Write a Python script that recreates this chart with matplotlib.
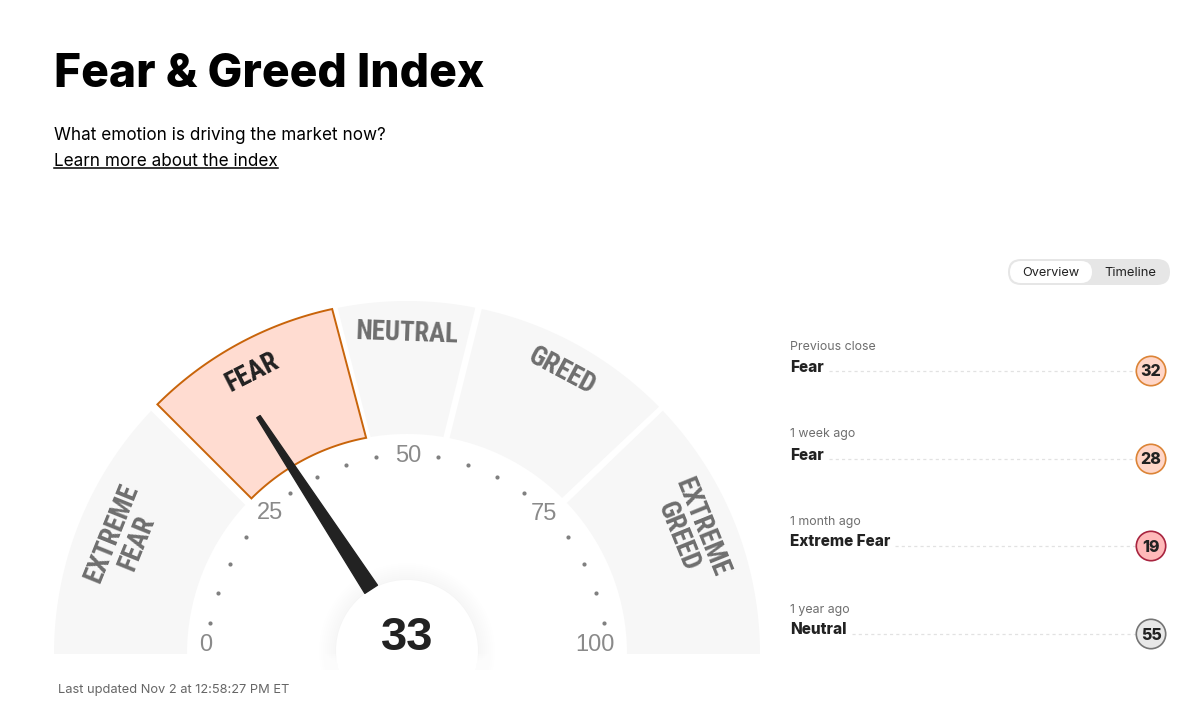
import numpy as np
import matplotlib
matplotlib.use("Agg")
import matplotlib.pyplot as plt
from matplotlib.patches import Circle, Polygon, FancyBboxPatch, Rectangle

# gauge data
zone_lines = ["EXTREME\nFEAR", "FEAR", "NEUTRAL", "GREED", "EXTREME\nGREED"]
zone_outer_from = [0, 25, 43.7, 56.8, 75.8]
zone_outer_to = [24.2, 43.2, 56.2, 75.3, 100]
zone_inner_from = [0, 25, 44.7, 56.2, 75.9]
zone_inner_to = [23.7, 44.05, 55.3, 74.9, 100]
tick_values = [0, 25, 50, 75, 100]
dot_values = [v for v in range(5, 100, 5) if v % 25 != 0]
current_value = 33
needle_tip_value = 32.2
needle_base_value = 33.9

# history panel
history_when = ["Previous close", "1 week ago", "1 month ago", "1 year ago"]
history_label = ["Fear", "Fear", "Extreme Fear", "Neutral"]
history_value = [32, 28, 19, 55]

CX, CY = 407, 654
R_OUT, R_IN = 353, 220
GRAY = "#f7f7f7"
ZONE_TEXT = "#6e6e6e"
DARK = "#222222"
SANS = "Inter"
BADGE = {"Fear": ("#ffd6c8", "#dc8436"),
         "Extreme Fear": ("#ffb9b9", "#a8243f"),
         "Neutral": ("#e8e8e8", "#757575")}


def gauge_xy(value, radius):
    a = np.radians(180 - 1.8 * np.asarray(value, dtype=float))
    return CX + radius * np.cos(a), CY - radius * np.sin(a)


def zone_polygon(o0, o1, i0, i1, r_out=R_OUT, r_in=R_IN):
    xo, yo = gauge_xy(np.linspace(o0, o1, 80), r_out)
    xi, yi = gauge_xy(np.linspace(i1, i0, 80), r_in)
    return np.column_stack([np.r_[xo, xi], np.r_[yo, yi]])


fig = plt.figure(figsize=(12, 7.15), dpi=100, facecolor="white")
ax = fig.add_axes([0, 0, 1, 1])
ax.set_xlim(0, 1200)
ax.set_ylim(715, 0)
ax.axis("off")

# header
ax.text(54, 75, "Fear & Greed Index", fontsize=33.3, fontweight=800, family=SANS,
        color="black", va="center")
ax.text(54, 136, "What emotion is driving the market now?", fontsize=12.35, family=SANS,
        color="black", va="center")
learn = ax.text(54, 161, "Learn more about the index", fontsize=12.35, family=SANS,
                color="black", va="center")

# zones
for i, name in enumerate(zone_lines):
    pts = zone_polygon(zone_outer_from[i], zone_outer_to[i], zone_inner_from[i], zone_inner_to[i])
    if name == "FEAR":
        ax.add_patch(Polygon(pts, closed=True, facecolor="#ffdcd1", edgecolor="#c8640a",
                             linewidth=1.4, joinstyle="miter", zorder=3))
    else:
        ax.add_patch(Polygon(pts, closed=True, facecolor=GRAY, edgecolor="none", zorder=2))

# zone names
zone_text_pos = [(124.5, 538, 68), (252, 372, 27), (407, 333, -2), (562, 371, -28), (690, 532, -68)]
for name, (x, y, rot) in zip(zone_lines, zone_text_pos):
    ax.text(x, y, name, fontsize=19.3, fontweight="bold", fontstretch="condensed",
            family=["Roboto Condensed", "DejaVu Sans"], rotation=rot,
            rotation_mode="anchor", ha="center", va="center", linespacing=0.97, zorder=5,
            color="#222222" if name == "FEAR" else ZONE_TEXT)

# dots and scale numbers
dx, dy = gauge_xy(dot_values, 199)
ax.scatter(dx, dy, s=9, color="#808080", linewidths=0, zorder=4)
tick_pos = [(206, 645), (270, 513), (408, 456), (544, 514), (595, 645)]
for v, (x, y) in zip(tick_values, tick_pos):
    ax.text(x, y, str(v), fontsize=17, color="#8a8a8a", family="Liberation Sans",
            ha="center", va="center", zorder=5)

# soft shadow round the hub
clip = Rectangle((300, 540), 220, 130, transform=ax.transData)
for r, a in zip(range(94, 70, -2), np.linspace(0.001, 0.006, 12)):
    c = Circle((CX, CY - 3), r, facecolor="black", alpha=a, edgecolor="none", zorder=6)
    ax.add_patch(c)
    c.set_clip_path(clip)

# needle
bx, by = gauge_xy(needle_base_value, 74)
tx, ty = gauge_xy(needle_tip_value, 280)
ux, uy = tx - bx, ty - by
ln = np.hypot(ux, uy)
nx, ny = -uy / ln, ux / ln
needle = [(bx + nx * 7.5, by + ny * 7.5), (tx + nx * 2, ty + ny * 2),
          (tx - nx * 2, ty - ny * 2), (bx - nx * 7.5, by - ny * 7.5)]
ax.add_patch(Polygon(needle, closed=True, facecolor=DARK, edgecolor=DARK, linewidth=1,
                     joinstyle="round", zorder=7))

# hub, fading out under the baseline
hub = Circle((CX, CY - 3), 71, facecolor="white", edgecolor="none", zorder=6.5)
ax.add_patch(hub)
hub.set_clip_path(clip)
for y0 in range(654, 672, 2):
    ax.add_patch(Rectangle((300, y0), 220, 20, facecolor="white", edgecolor="none",
                           alpha=0.25, zorder=6.6))
ax.text(CX, 638, str(current_value), fontsize=34, fontweight="bold", family="Liberation Sans",
        color=DARK, ha="center", va="center", zorder=8)

ax.text(58, 690, "Last updated Nov 2 at 12:58:27 PM ET", fontsize=9.25, family=SANS,
        color="#666666", va="center", zorder=9)

# toggle
ax.add_patch(FancyBboxPatch((1008, 259), 162, 26, boxstyle="round,pad=0,rounding_size=13",
                            facecolor="#e6e6e6", edgecolor="none"))
ax.add_patch(FancyBboxPatch((1010, 261), 82, 22, boxstyle="round,pad=0,rounding_size=11",
                            facecolor="white", edgecolor="none"))
ax.text(1051, 273, "Overview", fontsize=9.2, family=SANS, color=DARK, ha="center", va="center")
ax.text(1130, 273, "Timeline", fontsize=9.4, family=SANS, color=DARK, ha="center", va="center")

# history rows
fig.canvas.draw()
rend = fig.canvas.get_renderer()
inv = ax.transData.inverted()
row_y = [371, 459, 546, 634]
for when, label, val, y in zip(history_when, history_label, history_value, row_y):
    ax.text(790, y - 24.5, when, fontsize=8.9, family=SANS, color="#6e6e6e", va="center")
    t = ax.text(790, y - 4, label, fontsize=11, fontweight=800, family=SANS,
                color=DARK, va="center")
    x_end = inv.transform(t.get_window_extent(rend))[1, 0]
    ax.plot([x_end + 5, 1136], [y, y], color="#e2e2e2", linewidth=0.9, linestyle=(0, (2.5, 2.5)))
    face, edge = BADGE[label]
    ax.add_patch(Circle((1151, y), 14.7, facecolor=face, edgecolor=edge, linewidth=1.2, zorder=3))
    ax.text(1151, y + 1, str(val), fontsize=11.5, fontweight=800, family=SANS, color=DARK,
            ha="center", va="center", zorder=4)

# underline for the link
bb = inv.transform(learn.get_window_extent(rend))
ax.plot([bb[0, 0], bb[1, 0]], [168, 168], color="black", linewidth=1.1)

fig.savefig("out.png", dpi=100, facecolor="white")
